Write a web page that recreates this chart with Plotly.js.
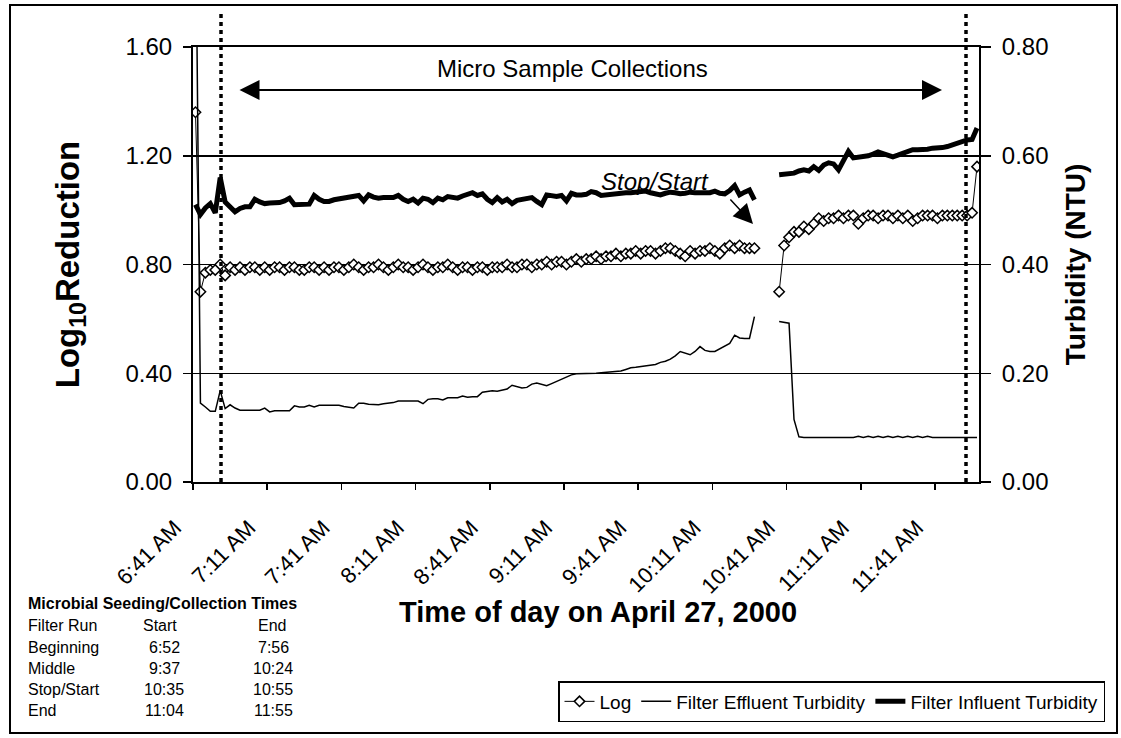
<!DOCTYPE html>
<html>
<head>
<meta charset="utf-8">
<script src="https://cdn.plot.ly/plotly-3.0.1.min.js"></script>
<style>
html, body { margin: 0; padding: 0; background: #fff; }
#grafico { width: 1121px; height: 738px; }
</style>
</head>
<body>
<div id="grafico"></div>
<script>
// Leituras a cada 2 minutos, 27/04/2000 (antes e depois da parada do filtro)
const day = '2000-04-27';
const startBefore = '06:42';
const startAfter = '10:38';
const stopGap = '10:33';

// Log10 Reduction (eixo esquerdo)
const logBefore = [
  1.36, 0.70, 0.77, 0.78, 0.78, 0.80, 0.76, 0.79, 0.78, 0.79,
  0.78, 0.79, 0.79, 0.78, 0.79, 0.78, 0.79, 0.79, 0.78, 0.79,
  0.79, 0.78, 0.78, 0.79, 0.79, 0.78, 0.79, 0.78, 0.79, 0.79,
  0.78, 0.79, 0.80, 0.79, 0.78, 0.79, 0.79, 0.80, 0.79, 0.78,
  0.79, 0.80, 0.79, 0.79, 0.78, 0.79, 0.80, 0.79, 0.78, 0.79,
  0.79, 0.80, 0.79, 0.78, 0.79, 0.79, 0.78, 0.79, 0.79, 0.78,
  0.79, 0.79, 0.79, 0.80, 0.79, 0.79, 0.80, 0.80, 0.79, 0.80,
  0.80, 0.81, 0.80, 0.81, 0.81, 0.80, 0.81, 0.82, 0.81, 0.82,
  0.82, 0.83, 0.82, 0.83, 0.83, 0.84, 0.83, 0.84, 0.84, 0.85,
  0.84, 0.85, 0.85, 0.84, 0.85, 0.86, 0.86, 0.85, 0.84, 0.83,
  0.85, 0.84, 0.85, 0.85, 0.86, 0.85, 0.84, 0.86, 0.87, 0.86,
  0.87, 0.86, 0.86, 0.86
];
const logAfter = [
  0.70, 0.87, 0.90, 0.92, 0.92, 0.94, 0.93, 0.95, 0.97, 0.96,
  0.97, 0.97, 0.98, 0.97, 0.98, 0.98, 0.95, 0.97, 0.98, 0.98,
  0.97, 0.98, 0.98, 0.97, 0.98, 0.97, 0.98, 0.96, 0.97, 0.98,
  0.98, 0.98, 0.97, 0.98, 0.98, 0.98, 0.98, 0.98, 0.98, 0.99,
  1.16
];

// Turbidez do efluente (NTU, eixo direito)
const effluentBefore = [
  1.10, 0.145, 0.138, 0.130, 0.130, 0.168, 0.135, 0.142, 0.136, 0.132,
  0.132, 0.132, 0.132, 0.132, 0.136, 0.129, 0.131, 0.131, 0.131, 0.131,
  0.140, 0.138, 0.138, 0.141, 0.138, 0.141, 0.141, 0.141, 0.141, 0.141,
  0.139, 0.137, 0.136, 0.145, 0.145, 0.143, 0.142, 0.142, 0.144, 0.145,
  0.146, 0.149, 0.149, 0.149, 0.149, 0.149, 0.144, 0.152, 0.153, 0.153,
  0.151, 0.155, 0.155, 0.155, 0.158, 0.156, 0.157, 0.157, 0.165, 0.166,
  0.168, 0.167, 0.169, 0.171, 0.178, 0.176, 0.173, 0.174, 0.180, 0.182,
  0.180, 0.177, 0.181, 0.185, 0.190, 0.194, 0.197, 0.199, 0.199, 0.199,
  0.199, 0.200, 0.201, 0.202, 0.202, 0.203, 0.204, 0.207, 0.210, 0.211,
  0.212, 0.213, 0.214, 0.216, 0.220, 0.222, 0.226, 0.232, 0.240, 0.237,
  0.234, 0.240, 0.249, 0.242, 0.240, 0.240, 0.245, 0.249, 0.255, 0.270,
  0.265, 0.264, 0.264, 0.304
];
const effluentAfter = [
  0.295, 0.293, 0.292, 0.115, 0.083, 0.082, 0.082, 0.082, 0.082, 0.082,
  0.082, 0.082, 0.082, 0.082, 0.082, 0.082, 0.084, 0.082, 0.084, 0.082,
  0.084, 0.082, 0.084, 0.082, 0.084, 0.082, 0.084, 0.082, 0.084, 0.082,
  0.084, 0.082, 0.082, 0.082, 0.082, 0.082, 0.082, 0.082, 0.082, 0.082,
  0.082
];

// Turbidez do afluente (NTU, eixo direito)
const influentBefore = [
  0.510, 0.492, 0.504, 0.512, 0.495, 0.560, 0.515, 0.505, 0.497, 0.503,
  0.506, 0.506, 0.520, 0.515, 0.512, 0.513, 0.513, 0.514, 0.517, 0.522,
  0.510, 0.510, 0.510, 0.511, 0.527, 0.520, 0.516, 0.516, 0.519, 0.521,
  0.523, 0.523, 0.525, 0.527, 0.517, 0.528, 0.524, 0.522, 0.523, 0.523,
  0.523, 0.527, 0.520, 0.516, 0.520, 0.513, 0.522, 0.520, 0.514, 0.522,
  0.519, 0.525, 0.523, 0.522, 0.526, 0.530, 0.532, 0.527, 0.530, 0.520,
  0.514, 0.523, 0.515, 0.520, 0.512, 0.518, 0.520, 0.521, 0.523, 0.516,
  0.510, 0.528, 0.526, 0.525, 0.527, 0.517, 0.531, 0.528, 0.528, 0.529,
  0.534, 0.532, 0.527, 0.528, 0.530, 0.532, 0.533, 0.532, 0.532, 0.533,
  0.534, 0.535, 0.532, 0.530, 0.528, 0.531, 0.533, 0.532, 0.530, 0.531,
  0.533, 0.532, 0.532, 0.534, 0.532, 0.535, 0.531, 0.530, 0.536, 0.545,
  0.528, 0.533, 0.537, 0.519
];
const influentAfter = [
  0.565, 0.566, 0.566, 0.568, 0.572, 0.574, 0.572, 0.580, 0.573, 0.583,
  0.587, 0.585, 0.574, 0.590, 0.608, 0.596, 0.597, 0.599, 0.600, 0.603,
  0.607, 0.604, 0.602, 0.598, 0.601, 0.604, 0.608, 0.611, 0.611, 0.611,
  0.612, 0.614, 0.614, 0.615, 0.617, 0.620, 0.624, 0.627, 0.629, 0.630,
  0.651
];

// Rótulos do eixo x (a cada 30 min)
const tickTimes = ['06:41', '07:11', '07:41', '08:11', '08:41', '09:11',
                   '09:41', '10:11', '10:41', '11:11', '11:41'];

// Tabela de coleta
const tableRuns = ['Beginning', 'Middle', 'Stop/Start', 'End'];
const tableStart = ['6:52', '9:37', '10:35', '11:04'];
const tableEnd = ['7:56', '10:24', '10:55', '11:55'];

function timeGrid(start, count) {
    const parts = start.split(':').map(Number);
    const out = [];
    for (let k = 0; k < count; k++) {
        const t = parts[0] * 60 + parts[1] + 2 * k;
        out.push(day + ' ' + String(Math.floor(t / 60)).padStart(2, '0') + ':' + String(t % 60).padStart(2, '0'));
    }
    return out;
}

const times = [].concat(timeGrid(startBefore, logBefore.length), [day + ' ' + stopGap], timeGrid(startAfter, logAfter.length));
const logVals = [].concat(logBefore, [null], logAfter);
const effluentVals = [].concat(effluentBefore, [null], effluentAfter);
const influentVals = [].concat(influentBefore, [null], influentAfter);

// área do gráfico em pixels
const L = 193, R = 979, T = 47, B = 482;
function px(x) { return (x - L) / (R - L); }
function py(y) { return (B - y) / (B - T); }

const fontFam = 'Liberation Sans, Arial, sans-serif';

const data = [
    {
        x: times, y: effluentVals, name: 'Filter Effluent Turbidity',
        type: 'scatter', mode: 'lines', yaxis: 'y2', legendrank: 2,
        line: { color: 'black', width: 1.5 }
    },
    {
        x: times, y: influentVals, name: 'Filter Influent Turbidity',
        type: 'scatter', mode: 'lines', yaxis: 'y2', legendrank: 3,
        line: { color: 'black', width: 5 }
    },
    {
        x: times, y: logVals, name: 'Log',
        type: 'scatter', mode: 'lines+markers', yaxis: 'y', legendrank: 1,
        line: { color: 'black', width: 1 },
        marker: { symbol: 'diamond', size: 8, color: 'white', line: { color: 'black', width: 1.5 } }
    }
];

function label(x, y, text, size, anchor) {
    return {
        xref: 'paper', yref: 'paper', x: px(x), y: py(y),
        xanchor: anchor || 'center', yanchor: 'middle',
        text: text, showarrow: false, font: { size: size }
    };
}

const annotations = [
    label(572, 68, 'Micro Sample Collections', 24),
    {
        xref: 'x domain', yref: 'y domain', x: px(942), y: py(90),
        axref: 'x domain', ayref: 'y domain', ax: px(238), ay: py(90),
        text: '', showarrow: true, arrowside: 'end+start',
        arrowhead: 2, startarrowhead: 2, arrowsize: 2, startarrowsize: 2, arrowwidth: 2,
        arrowcolor: 'black', standoff: 0, startstandoff: 0
    },
    label(655, 182, '<i>Stop/Start</i>', 24),
    {
        xref: 'x domain', yref: 'y domain', x: px(753), y: py(224),
        ax: -24, ay: -26, text: '', showarrow: true,
        arrowhead: 2, arrowsize: 2.6, arrowwidth: 1.5, arrowcolor: 'black', standoff: 0
    },
    // título do eixo x (deslocado como no original)
    label(598, 612, '<b>Time of day on April 27, 2000</b>', 29),
    label(26, 603, '<b>Microbial Seeding/Collection Times</b>', 16, 'left'),
    label(26, 625, 'Filter Run', 16, 'left'),
    label(160, 625, 'Start', 16),
    label(272, 625, 'End', 16)
];

tableRuns.forEach(function (run, i) {
    const yy = 647 + i * 21.3;
    annotations.push(label(26, yy, run, 16, 'left'));
    annotations.push(label(164, yy, tableStart[i], 16));
    annotations.push(label(273, yy, tableEnd[i], 16));
});

const shapes = [
    // moldura externa
    { type: 'rect', xref: 'paper', yref: 'paper', x0: px(10), x1: px(1117), y0: py(733), y1: py(5),
      line: { color: 'black', width: 2 } },
    // início e fim das coletas
    { type: 'line', xref: 'paper', yref: 'paper', x0: px(221), x1: px(221), y0: 0, y1: py(12),
      line: { color: 'black', width: 3.5, dash: '4px,4px' } },
    { type: 'line', xref: 'paper', yref: 'paper', x0: px(966), x1: px(966), y0: 0, y1: py(12),
      line: { color: 'black', width: 3.5, dash: '4px,4px' } }
];

const layout = {
    width: 1121,
    height: 738,
    margin: { l: L, r: 1121 - R, t: T, b: 738 - B },
    paper_bgcolor: 'white',
    plot_bgcolor: 'white',
    font: { family: fontFam, color: 'black' },
    hovermode: false,
    showlegend: true,
    legend: {
        orientation: 'h', x: px(1105), xanchor: 'right', y: py(722), yanchor: 'bottom',
        bordercolor: 'black', borderwidth: 1.5, bgcolor: 'white',
        font: { size: 19 }, traceorder: 'normal'
    },
    xaxis: {
        type: 'date',
        range: [day + ' 06:41', day + ' 11:58:48'],
        tickvals: tickTimes.map(function (t) { return day + ' ' + t; }),
        tickformat: '%-I:%M %p',
        tickangle: -45,
        ticklabelshift: -18,
        ticklabelstandoff: 16,
        tickfont: { size: 22 },
        ticks: 'outside', ticklen: 6, tickwidth: 1.5, tickcolor: 'black',
        showline: true, linecolor: 'black', linewidth: 2, mirror: true,
        showgrid: false, zeroline: false
    },
    yaxis: {
        range: [0, 1.6], tick0: 0, dtick: 0.4, tickformat: '.2f',
        tickfont: { size: 24 }, ticklabelstandoff: 6,
        ticks: 'outside', ticklen: 8, tickwidth: 1.5, tickcolor: 'black',
        showline: true, linecolor: 'black', linewidth: 2,
        showgrid: true, gridcolor: 'black', gridwidth: 1.5, zeroline: false,
        title: { text: '<b>Log<sub>10</sub>Reduction</b>', font: { size: 33 }, standoff: 36 }
    },
    yaxis2: {
        overlaying: 'y', side: 'right',
        range: [0, 0.8], tick0: 0, dtick: 0.2, tickformat: '.2f',
        tickfont: { size: 24 }, ticklabelstandoff: 6,
        ticks: 'outside', ticklen: 10, tickwidth: 1.5, tickcolor: 'black',
        showline: true, linecolor: 'black', linewidth: 2,
        showgrid: false, zeroline: false,
        title: { text: '<b>Turbidity (NTU)</b>', font: { size: 28 }, standoff: 18 }
    },
    annotations: annotations,
    shapes: shapes
};

Plotly.newPlot('grafico', data, layout, { displayModeBar: false, staticPlot: true });
</script>
</body>
</html>
